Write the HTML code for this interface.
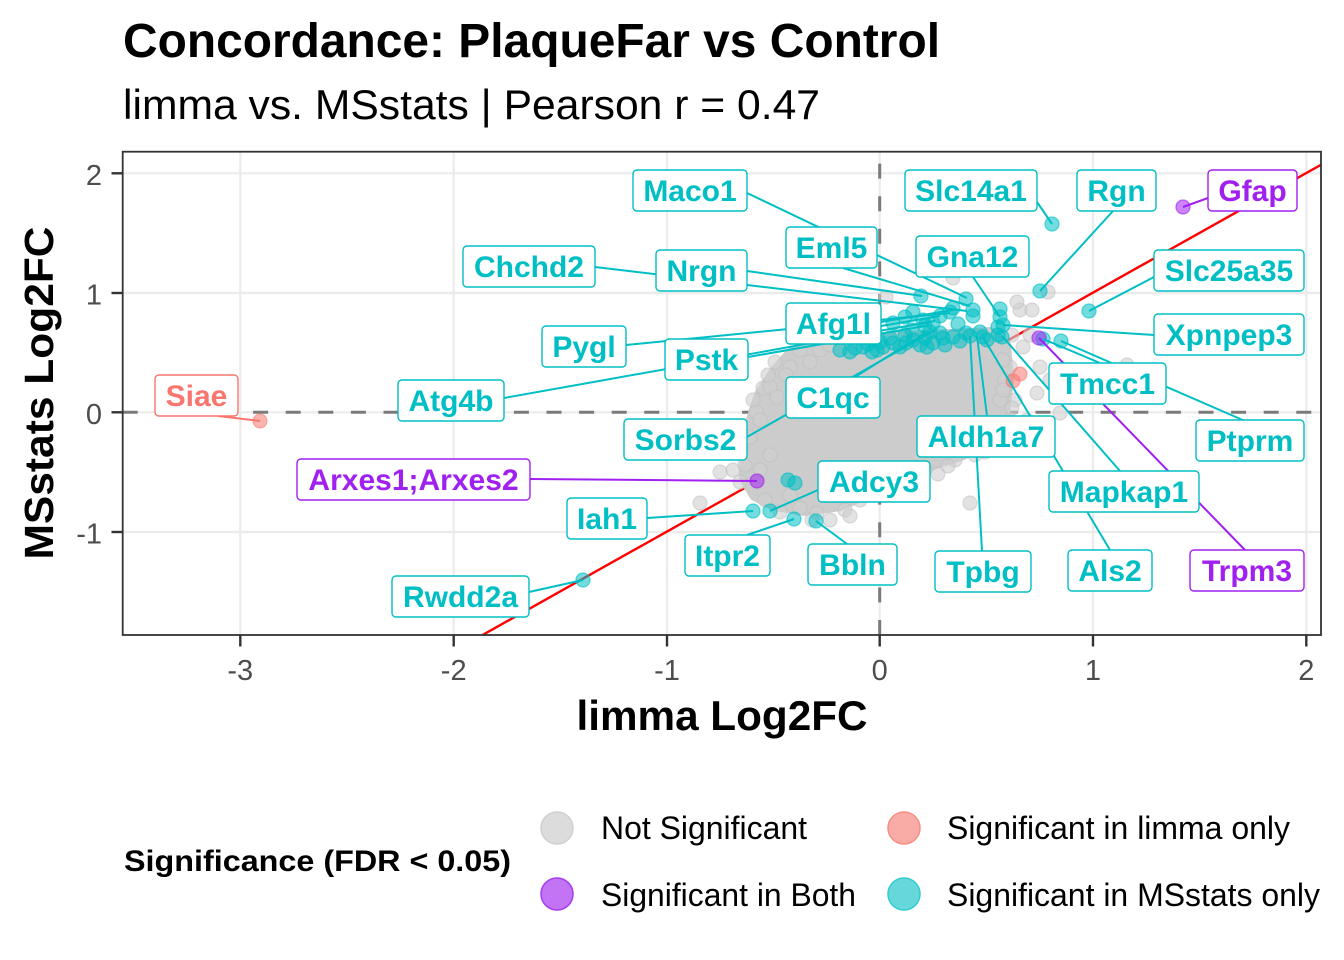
<!DOCTYPE html>
<html>
<head>
<meta charset="utf-8">
<style>
html,body{margin:0;padding:0;background:#fff;}
svg{display:block;}
text{font-family:"Liberation Sans",Arial,Helvetica,sans-serif;}
</style>
</head>
<body>
<svg width="1344" height="960" viewBox="0 0 1344 960" xmlns="http://www.w3.org/2000/svg">
<defs>
<clipPath id="panel"><rect x="122.7" y="151.7" width="1198.3" height="483.3"/></clipPath>
</defs>
<rect width="1344" height="960" fill="#fff"/>

<!-- Titles -->
<text x="123" y="57" font-size="48" font-weight="bold" fill="#000" textLength="817" lengthAdjust="spacingAndGlyphs">Concordance: PlaqueFar vs Control</text>
<text x="123" y="119" font-size="42" fill="#000" textLength="697" lengthAdjust="spacingAndGlyphs">limma vs. MSstats | Pearson r = 0.47</text>

<!-- Panel -->
<g clip-path="url(#panel)">
<!-- grid -->
<g stroke="#EBEBEB" stroke-width="2.2">
<line x1="240.3" y1="151" x2="240.3" y2="636"/>
<line x1="453.7" y1="151" x2="453.7" y2="636"/>
<line x1="667" y1="151" x2="667" y2="636"/>
<line x1="879.7" y1="151" x2="879.7" y2="636"/>
<line x1="1093" y1="151" x2="1093" y2="636"/>
<line x1="1306.3" y1="151" x2="1306.3" y2="636"/>
<line x1="122" y1="173.3" x2="1322" y2="173.3"/>
<line x1="122" y1="293" x2="1322" y2="293"/>
<line x1="122" y1="412.3" x2="1322" y2="412.3"/>
<line x1="122" y1="532" x2="1322" y2="532"/>
</g>
<!-- dashed zero lines -->
<line x1="122.7" y1="412.3" x2="1321" y2="412.3" stroke="#7A7A7A" stroke-width="3" stroke-dasharray="15 17.6"/>
<line x1="879.7" y1="635" x2="879.7" y2="151.7" stroke="#7A7A7A" stroke-width="3" stroke-dasharray="15 17.6"/>
<!-- identity line -->
<line x1="482.5" y1="635" x2="1321" y2="164.8" stroke="#FF0000" stroke-width="2.4"/>

<!-- grey dense cloud -->
<path d="M805,345 L850,340 L900,337 L950,335 L990,333 L1005,345 L1008,380 L1003,420 L985,445 L960,455 L930,465 L900,478 L870,492 L840,505 L805,510 L775,505 L755,495 L745,478 L746,450 L752,420 L760,395 L775,372 L790,355 Z" fill="#CCCCCC" stroke="#CCCCCC" stroke-width="12" stroke-linejoin="round"/>

<!-- grey scattered points -->
<g fill="#CFCFCF" fill-opacity="0.6" stroke="#BDBDBD" stroke-opacity="0.5" stroke-width="1.2">
<circle cx="700" cy="503" r="7"/><circle cx="733" cy="470" r="7"/><circle cx="720" cy="472" r="7"/>
<circle cx="742" cy="448" r="7"/><circle cx="740" cy="482" r="7"/><circle cx="750" cy="437" r="7"/>
<circle cx="756" cy="412" r="7"/><circle cx="753" cy="400" r="7"/><circle cx="763" cy="388" r="7"/>
<circle cx="770" cy="387" r="7"/><circle cx="775" cy="362" r="7"/><circle cx="790" cy="367" r="7"/>
<circle cx="777" cy="397" r="7"/><circle cx="810" cy="362" r="7"/><circle cx="820" cy="350" r="7"/>
<circle cx="850" cy="350" r="7"/><circle cx="830" cy="520" r="7"/><circle cx="817" cy="513" r="7"/>
<circle cx="800" cy="508" r="7"/><circle cx="860" cy="500" r="7"/><circle cx="780" cy="512" r="7"/>
<circle cx="970" cy="503" r="7"/><circle cx="938" cy="474" r="7"/><circle cx="955" cy="460" r="7"/>
<circle cx="1000" cy="400" r="7"/><circle cx="1005" cy="380" r="7"/><circle cx="1010" cy="367" r="7"/>
<circle cx="1023" cy="347" r="7"/><circle cx="1040" cy="367" r="7"/><circle cx="1037" cy="393" r="7"/>
<circle cx="1060" cy="413" r="7"/><circle cx="1020" cy="310" r="7"/><circle cx="1032" cy="310" r="7"/>
<circle cx="1017" cy="302" r="7"/><circle cx="1048" cy="292" r="7"/><circle cx="953" cy="278" r="7"/>
<circle cx="886" cy="297" r="7"/><circle cx="1127" cy="365" r="7"/><circle cx="1003" cy="360" r="7"/>
<circle cx="990" cy="440" r="7"/><circle cx="1010" cy="420" r="7"/><circle cx="1015" cy="400" r="7"/>
<circle cx="1027" cy="420" r="7"/><circle cx="1003" cy="390" r="7"/><circle cx="1050" cy="380" r="7"/>
<circle cx="1030" cy="335" r="7"/><circle cx="1012" cy="335" r="7"/><circle cx="1000" cy="445" r="7"/>
<circle cx="975" cy="455" r="7"/><circle cx="770" cy="455" r="7"/><circle cx="760" cy="470" r="7"/>
<circle cx="790" cy="495" r="7"/><circle cx="845" cy="510" r="7"/><circle cx="880" cy="495" r="7"/>
<circle cx="905" cy="483" r="7"/><circle cx="925" cy="470" r="7"/><circle cx="830" cy="345" r="7"/>
<circle cx="800" cy="350" r="7"/><circle cx="786" cy="375" r="7"/><circle cx="760" cy="420" r="7"/>
<circle cx="745" cy="465" r="7"/><circle cx="765" cy="500" r="7"/><circle cx="812" cy="520" r="7"/>
<circle cx="850" cy="516" r="7"/><circle cx="895" cy="490" r="7"/><circle cx="948" cy="466" r="7"/>
<circle cx="985" cy="452" r="7"/><circle cx="1012" cy="408" r="7"/><circle cx="768" cy="375" r="7"/>
</g>

<!-- coral points -->
<g fill="#F8766D" fill-opacity="0.55" stroke="#F8766D" stroke-opacity="0.5" stroke-width="1.2">
<circle cx="1020" cy="374" r="7"/><circle cx="1013" cy="381" r="7"/><circle cx="260" cy="421" r="7"/>
</g>

<!-- teal points -->
<g fill="#00BFC4" fill-opacity="0.55" stroke="#00BFC4" stroke-opacity="0.6" stroke-width="1.3">
<circle cx="840" cy="350" r="7"/><circle cx="855" cy="348" r="7"/><circle cx="863" cy="347" r="7"/>
<circle cx="872" cy="352" r="7"/><circle cx="877" cy="350" r="7"/><circle cx="883" cy="347" r="7"/>
<circle cx="893" cy="343" r="7"/><circle cx="900" cy="347" r="7"/><circle cx="906" cy="343" r="7"/>
<circle cx="913" cy="340" r="7"/><circle cx="927" cy="347" r="7"/><circle cx="933" cy="343" r="7"/>
<circle cx="943" cy="338" r="7"/><circle cx="953" cy="337" r="7"/><circle cx="966" cy="333" r="7"/>
<circle cx="980" cy="332" r="7"/><circle cx="998" cy="327" r="7"/><circle cx="998" cy="335" r="7"/>
<circle cx="913" cy="312" r="7"/><circle cx="905" cy="317" r="7"/><circle cx="893" cy="323" r="7"/>
<circle cx="923" cy="320" r="7"/><circle cx="933" cy="323" r="7"/><circle cx="940" cy="333" r="7"/>
<circle cx="953" cy="308" r="7"/><circle cx="966" cy="299" r="7"/><circle cx="973" cy="310" r="7"/>
<circle cx="973" cy="316" r="7"/><circle cx="921" cy="296" r="7"/><circle cx="1000" cy="317" r="7"/>
<circle cx="1000" cy="309" r="7"/><circle cx="1003" cy="325" r="7"/><circle cx="983" cy="337" r="7"/>
<circle cx="970" cy="336" r="7"/><circle cx="987" cy="340" r="7"/><circle cx="930" cy="332" r="7"/>
<circle cx="925" cy="326" r="7"/><circle cx="940" cy="316" r="7"/><circle cx="950" cy="312" r="7"/>
<circle cx="1002" cy="337" r="7"/><circle cx="960" cy="341" r="7"/><circle cx="890" cy="338" r="7"/>
<circle cx="868" cy="344" r="7"/><circle cx="912" cy="330" r="7"/><circle cx="925" cy="338" r="7"/>
<circle cx="945" cy="345" r="7"/><circle cx="880" cy="342" r="7"/><circle cx="905" cy="335" r="7"/>
<circle cx="920" cy="345" r="7"/><circle cx="850" cy="352" r="7"/><circle cx="958" cy="324" r="7"/>
<circle cx="1052" cy="224" r="7"/><circle cx="1040" cy="291" r="7"/><circle cx="1089" cy="311" r="7"/>
<circle cx="1061" cy="341" r="7"/><circle cx="1043" cy="339" r="7"/>
<circle cx="753" cy="511" r="7"/><circle cx="770" cy="511" r="7"/><circle cx="794" cy="519" r="7"/>
<circle cx="816" cy="521" r="7"/><circle cx="583" cy="580" r="7"/><circle cx="788" cy="480" r="7"/>
<circle cx="795" cy="483" r="7"/>
</g>

<!-- purple points -->
<g fill="#A020F0" fill-opacity="0.55" stroke="#A020F0" stroke-opacity="0.6" stroke-width="1.3">
<circle cx="1183" cy="207" r="7"/><circle cx="1039" cy="338" r="7"/><circle cx="757" cy="481" r="7"/>
</g>

<!-- segments -->
<g stroke="#00BFC4" stroke-width="2" fill="none">
<line x1="747" y1="193" x2="967" y2="298"/>
<line x1="843" y1="268" x2="970" y2="306"/>
<line x1="747" y1="271" x2="922" y2="296"/>
<line x1="595" y1="267" x2="967" y2="311"/>
<line x1="1037" y1="202" x2="1052" y2="224"/>
<line x1="1113" y1="211" x2="1040" y2="291"/>
<line x1="973" y1="277" x2="1000" y2="317"/>
<line x1="1154" y1="277" x2="1089" y2="311"/>
<line x1="881" y1="322" x2="953" y2="310"/>
<line x1="881" y1="326" x2="940" y2="316"/>
<line x1="626" y1="345" x2="950" y2="313"/>
<line x1="748" y1="357" x2="925" y2="326"/>
<line x1="504" y1="398" x2="935" y2="321"/>
<line x1="855" y1="377" x2="925" y2="333"/>
<line x1="747" y1="437" x2="935" y2="330"/>
<line x1="1154" y1="335" x2="1003" y2="325"/>
<line x1="1100" y1="363" x2="1043" y2="339"/>
<line x1="1245" y1="421" x2="1061" y2="341"/>
<line x1="1120" y1="471" x2="1002" y2="336"/>
<line x1="1110" y1="550" x2="983" y2="337"/>
<line x1="987" y1="416" x2="977" y2="336"/>
<line x1="982" y1="551" x2="970" y2="336"/>
<line x1="818" y1="490" x2="770" y2="511"/>
<line x1="647" y1="518" x2="753" y2="511"/>
<line x1="747" y1="535" x2="794" y2="519"/>
<line x1="847" y1="544" x2="816" y2="521"/>
<line x1="529" y1="592" x2="583" y2="580"/>
</g>
<g stroke="#A020F0" stroke-width="2" fill="none">
<line x1="1208" y1="198" x2="1183" y2="207"/>
<line x1="530" y1="479" x2="757" y2="481"/>
<line x1="1245" y1="550" x2="1039" y2="338"/>
</g>
<line x1="218" y1="416" x2="260" y2="421" stroke="#F8766D" stroke-width="2"/>

<!-- labels -->
<g font-size="30" font-weight="bold" text-anchor="middle">
<g fill="#fff" stroke="#00BFC4" stroke-width="1.4">
<rect x="633" y="170" width="114" height="41" rx="4"/>
<rect x="905" y="170" width="132" height="41" rx="4"/>
<rect x="1077" y="170" width="79" height="41" rx="4"/>
<rect x="786" y="227" width="91" height="41" rx="4"/>
<rect x="916" y="236" width="113" height="41" rx="4"/>
<rect x="463" y="246" width="132" height="41" rx="4"/>
<rect x="656" y="250" width="91" height="41" rx="4"/>
<rect x="1154" y="250" width="150" height="41" rx="4"/>
<rect x="786" y="303" width="95" height="41" rx="4"/>
<rect x="1154" y="314" width="150" height="41" rx="4"/>
<rect x="542" y="326" width="84" height="41" rx="4"/>
<rect x="665" y="339" width="83" height="41" rx="4"/>
<rect x="1049" y="363" width="117" height="41" rx="4"/>
<rect x="786" y="377" width="94" height="41" rx="4"/>
<rect x="398" y="380" width="106" height="41" rx="4"/>
<rect x="1196" y="420" width="108" height="41" rx="4"/>
<rect x="917" y="416" width="138" height="41" rx="4"/>
<rect x="624" y="419" width="123" height="41" rx="4"/>
<rect x="818" y="461" width="112" height="41" rx="4"/>
<rect x="1049" y="471" width="150" height="41" rx="4"/>
<rect x="567" y="498" width="80" height="41" rx="4"/>
<rect x="685" y="535" width="85" height="41" rx="4"/>
<rect x="808" y="544" width="89" height="41" rx="4"/>
<rect x="935" y="551" width="96" height="41" rx="4"/>
<rect x="1068" y="550" width="84" height="41" rx="4"/>
<rect x="392" y="576" width="137" height="41" rx="4"/>
</g>
<g fill="#fff" stroke="#A020F0" stroke-width="1.4">
<rect x="1208" y="170" width="89" height="41" rx="4"/>
<rect x="297" y="459" width="233" height="41" rx="4"/>
<rect x="1190" y="550" width="114" height="41" rx="4"/>
</g>
<rect x="155" y="375" width="83" height="41" rx="4" fill="#fff" stroke="#F8766D" stroke-width="1.4"/>

<g fill="#00BFC4">
<text x="690" y="201">Maco1</text>
<text x="971" y="201">Slc14a1</text>
<text x="1116.5" y="201">Rgn</text>
<text x="831.5" y="258">Eml5</text>
<text x="972.5" y="267">Gna12</text>
<text x="529" y="277">Chchd2</text>
<text x="701.5" y="281">Nrgn</text>
<text x="1229" y="281">Slc25a35</text>
<text x="833.5" y="334">Afg1l</text>
<text x="1229" y="345">Xpnpep3</text>
<text x="584" y="357">Pygl</text>
<text x="706.5" y="370">Pstk</text>
<text x="1107.5" y="394">Tmcc1</text>
<text x="833" y="408">C1qc</text>
<text x="451" y="411">Atg4b</text>
<text x="1250" y="451">Ptprm</text>
<text x="986" y="447">Aldh1a7</text>
<text x="685.5" y="450">Sorbs2</text>
<text x="874" y="492">Adcy3</text>
<text x="1124" y="502">Mapkap1</text>
<text x="607" y="529">Iah1</text>
<text x="727.5" y="566">Itpr2</text>
<text x="852.5" y="575">Bbln</text>
<text x="983" y="582">Tpbg</text>
<text x="1110" y="581">Als2</text>
<text x="460.5" y="607">Rwdd2a</text>
</g>
<g fill="#A020F0">
<text x="1252.5" y="201">Gfap</text>
<text x="413.5" y="490">Arxes1;Arxes2</text>
<text x="1247" y="581">Trpm3</text>
</g>
<text x="196.5" y="406" fill="#F8766D">Siae</text>
</g>
</g>

<!-- panel border -->
<rect x="122.7" y="151.7" width="1198.3" height="483.3" fill="none" stroke="#333333" stroke-width="1.8"/>

<!-- ticks -->
<g stroke="#333333" stroke-width="2.4">
<line x1="240.3" y1="635" x2="240.3" y2="646.5"/>
<line x1="453.7" y1="635" x2="453.7" y2="646.5"/>
<line x1="667" y1="635" x2="667" y2="646.5"/>
<line x1="879.7" y1="635" x2="879.7" y2="646.5"/>
<line x1="1093" y1="635" x2="1093" y2="646.5"/>
<line x1="1306.3" y1="635" x2="1306.3" y2="646.5"/>
<line x1="111.5" y1="173.3" x2="122.7" y2="173.3"/>
<line x1="111.5" y1="293" x2="122.7" y2="293"/>
<line x1="111.5" y1="412.3" x2="122.7" y2="412.3"/>
<line x1="111.5" y1="532" x2="122.7" y2="532"/>
</g>
<g font-size="29" fill="#4D4D4D" text-anchor="middle">
<text x="240.3" y="680">-3</text>
<text x="453.7" y="680">-2</text>
<text x="667" y="680">-1</text>
<text x="879.7" y="680">0</text>
<text x="1093" y="680">1</text>
<text x="1306.3" y="680">2</text>
</g>
<g font-size="29" fill="#4D4D4D" text-anchor="end">
<text x="102" y="185">2</text>
<text x="102" y="304.5">1</text>
<text x="102" y="424">0</text>
<text x="102" y="543.5">-1</text>
</g>

<!-- axis titles -->
<text x="722" y="730" font-size="42" font-weight="bold" text-anchor="middle" fill="#000" textLength="291" lengthAdjust="spacingAndGlyphs">limma Log2FC</text>
<text transform="translate(53,393) rotate(-90)" x="0" y="0" font-size="41" font-weight="bold" text-anchor="middle" fill="#000" textLength="333" lengthAdjust="spacingAndGlyphs">MSstats Log2FC</text>

<!-- legend -->
<text x="124" y="871" font-size="30" font-weight="bold" fill="#000" textLength="387" lengthAdjust="spacingAndGlyphs">Significance (FDR &lt; 0.05)</text>
<circle cx="557" cy="828" r="16" fill="#DCDCDC" stroke="#D0D0D0" stroke-width="1.5"/>
<circle cx="904" cy="828" r="16" fill="#F9ACA6" stroke="#F58F87" stroke-width="1.5"/>
<circle cx="557" cy="894" r="16" fill="#C274F5" stroke="#A83CF0" stroke-width="1.5"/>
<circle cx="904" cy="894" r="16" fill="#66D8DB" stroke="#33CCD0" stroke-width="1.5"/>
<g font-size="32" fill="#000">
<text x="601" y="839" textLength="206" lengthAdjust="spacingAndGlyphs">Not Significant</text>
<text x="947" y="839" textLength="343" lengthAdjust="spacingAndGlyphs">Significant in limma only</text>
<text x="601" y="906" textLength="255" lengthAdjust="spacingAndGlyphs">Significant in Both</text>
<text x="947" y="906" textLength="373" lengthAdjust="spacingAndGlyphs">Significant in MSstats only</text>
</g>
</svg>
</body>
</html>
